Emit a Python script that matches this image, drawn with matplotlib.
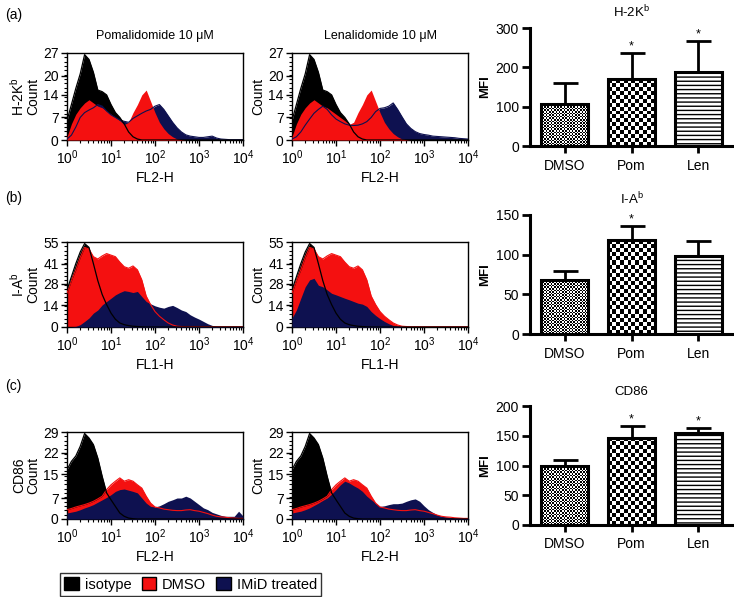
import matplotlib
matplotlib.use('Agg')
import matplotlib.pyplot as plt
import numpy as np
from matplotlib.patches import Patch
from matplotlib.ticker import FixedLocator, LogLocator, NullFormatter

plt.rcParams['font.family'] = ['Liberation Sans', 'DejaVu Sans']
plt.rcParams['mathtext.fontset'] = 'custom'
plt.rcParams['mathtext.rm'] = 'Liberation Sans'
plt.rcParams['mathtext.it'] = 'Liberation Sans'
plt.rcParams['hatch.linewidth'] = 1.0

# log10 of fluorescence, 0.1 decade steps
logx = np.round(np.arange(0, 4.01, 0.1), 2)

# (a) H-2Kb
iso_a = [6, 11, 16, 20.5, 26.5, 25, 21, 15.5, 15, 14, 11, 8.5, 7, 5, 2.5, 1, 0.3, 0, 0, 0, 0,
         0, 0, 0, 0, 0, 0, 0, 0, 0, 0, 0, 0, 0, 0, 0, 0, 0, 0, 0, 0]
dmso_a = [1, 5, 8, 10, 11.5, 12.5, 11.5, 10.5, 10, 9, 8, 7, 6, 4.8, 5.5, 8.5, 11, 14, 15.5, 12, 8.5,
          5.5, 3.5, 2, 1, 0.3, 0.1, 0, 0, 0, 0, 0, 0, 0, 0, 0, 0, 0, 0, 0, 0]
pom_a = [0.3, 1.5, 4, 7, 8.5, 9.3, 10, 11, 10.5, 9, 7.8, 7, 6.2, 5.8, 5.5, 6.7, 7.5, 8.3, 9, 9.5, 10.5,
         11, 9.5, 7.5, 5.5, 3.8, 2.5, 1.6, 1.2, 1, 0.8, 0.8, 1, 1.2, 0.6, 0.3, 0.2, 0.1, 0.1, 0.1, 0.1]
len_a = [0.3, 1, 2.5, 4.6, 6.5, 8.3, 9.5, 10.5, 9.5, 7.8, 6.5, 5.7, 5, 4.6, 4.5, 4.6, 5, 5.7, 7, 8.8, 9.8,
         10, 10.5, 11.5, 9.5, 7.2, 5, 3.6, 2.6, 2, 1.7, 1.5, 1.2, 1.1, 1, 0.9, 0.8, 0.7, 0.5, 0.4, 0.3]

# (b) I-Ab
iso_b = [24, 32.5, 41, 48.5, 54, 51.5, 41, 30, 21, 14.5, 9, 5, 2.6, 1.5, 0.9, 0.5, 0.3, 0.1, 0, 0, 0,
         0, 0, 0, 0, 0, 0, 0, 0, 0, 0, 0, 0, 0, 0, 0, 0, 0, 0, 0, 0]
dmso_b = [22, 30, 37, 45, 51.5, 50.5, 45.5, 44, 46, 47.5, 46.5, 45.5, 42, 39, 38, 39.5, 37, 30.5, 20, 14.5, 10,
          7, 4.7, 2.6, 1.3, 0.5, 0.3, 0.2, 0.2, 0.2, 0.2, 0.2, 0.2, 0.2, 0.2, 0.2, 0.2, 0.2, 0.2, 0.2, 0.2]
pom_b = [0, 0.1, 0.4, 1.5, 3.6, 5.8, 9, 11, 14.3, 16.5, 18.6, 20.8, 22.3, 23.5, 23, 22.3, 23, 19.7, 16.5, 15, 13.7,
         12.8, 12.2, 13.3, 14, 12.6, 11, 10, 7.9, 6.4, 5.1, 3.6, 2.1, 1, 0.4, 0.2, 0.2, 0.2, 0.2, 0.2, 0.2]
len_b = [5.8, 11, 18.6, 26, 30.5, 31.5, 27, 26, 24, 21.8, 20.8, 19.7, 18.6, 17.6, 16.5, 15.4, 14.8, 13.3, 10, 7.5, 5.4,
         3.6, 2.1, 1, 0.4, 0.1, 0, 0, 0, 0, 0, 0, 0, 0, 0, 0, 0, 0, 0, 0, 0]

# (c) CD86
iso_c = [16.4, 19.2, 21, 24.2, 28.5, 27, 24.8, 20.3, 14.2, 8.7, 6.4, 4.2, 2, 0.9, 0.3, 0.1, 0, 0, 0, 0, 0,
         0, 0, 0, 0, 0, 0, 0, 0, 0, 0, 0, 0, 0, 0, 0, 0, 0, 0, 0, 0]
dmso_c = [3.1, 3.5, 4, 4.4, 4.8, 5.3, 5.9, 6.7, 7.6, 9.8, 11.4, 12.6, 13.7, 12.6, 13.1, 12.6, 11.4, 10.3, 7.6, 5.3, 4,
          3.7, 3.3, 3.1, 2.9, 2.8, 2.8, 3, 3.1, 2.8, 2.6, 2.2, 1.8, 1.3, 0.9, 0.7, 0.6, 0.4, 0.3, 0.2, 0.2]
pom_c = [2, 2.3, 2.6, 3.1, 3.7, 4.2, 4.8, 5.6, 6.4, 7.2, 8.1, 9.2, 9.8, 10, 9.6, 9.2, 8.7, 7, 5.3, 4.2, 4,
         4.4, 5.1, 5.9, 6.4, 7, 7, 7.6, 7, 5.9, 4.8, 3.7, 3.1, 2.2, 1.7, 1.2, 0.9, 0.9, 0.9, 2.6, 1]
len_c = [2, 2.3, 2.6, 3.1, 3.7, 4.5, 5.3, 6.2, 7, 8.3, 9.8, 11.4, 12.6, 12, 11.1, 10.3, 9.2, 7.6, 6.4, 5.3, 4.2,
         4.4, 4.8, 5.1, 5.1, 5.3, 5.9, 6.4, 6.7, 5.9, 4.4, 3.1, 2.2, 1.4, 0.9, 0.7, 0.5, 0.4, 0.4, 0.4, 0.4]

# bar charts (MFI)
groups = ['DMSO', 'Pom', 'Len']
mfi_a = [108, 170, 188]
err_a = [52, 67, 79]
mfi_b = [68, 118, 98]
err_b = [11, 18, 19]
mfi_c = [100, 147, 154]
err_c = [10, 19, 9]
stars_a = [False, True, True]
stars_b = [False, True, False]
stars_c = [False, True, True]

RED = '#f41010'
NAVY = '#0e1150'

fig = plt.figure(figsize=(7.34, 5.97), dpi=100)
W, H = 734.0, 597.0


def axes_px(x0, y0, x1, y1):
    return fig.add_axes([x0 / W, 1 - y1 / H, (x1 - x0) / W, (y1 - y0) / H])


def hist_panel(ax, iso, dmso, treat, navy_top, ymax, yticks, xlab, ylab, title=None):
    x = 10 ** logx
    if navy_top:
        ax.fill_between(x, iso, color='black', lw=0, zorder=1)
        ax.fill_between(x, dmso, color=RED, lw=0, zorder=2)
        ax.fill_between(x, treat, color=NAVY, lw=0, zorder=3)
        ax.plot(x, dmso, color=RED, lw=0.8, zorder=4)
    else:
        ax.fill_between(x, iso, color='black', lw=0, zorder=1)
        ax.fill_between(x, treat, color=NAVY, lw=0, zorder=2)
        ax.fill_between(x, dmso, color=RED, lw=0, zorder=3)
        ax.plot(x, treat, color=NAVY, lw=0.8, zorder=4)
    ax.plot(x, iso, color='black', lw=0.9, zorder=5)
    ax.set_xscale('log')
    ax.set_xlim(1, 1e4)
    ax.set_ylim(0, ymax)
    ax.set_yticks(yticks)
    ax.yaxis.set_minor_locator(FixedLocator(np.linspace(0, ymax, 21)))
    ax.xaxis.set_major_locator(LogLocator(base=10, numticks=10))
    ax.xaxis.set_minor_locator(LogLocator(base=10, subs=np.arange(2, 10), numticks=10))
    ax.xaxis.set_minor_formatter(NullFormatter())
    ax.tick_params(which='major', direction='out', length=4, width=1, labelsize=10, pad=2)
    ax.tick_params(which='minor', direction='out', length=2, width=0.8)
    for s in ax.spines.values():
        s.set_linewidth(1.0)
    ax.set_xlabel(xlab, fontsize=10, labelpad=3)
    ax.set_ylabel(ylab, fontsize=10, labelpad=2, linespacing=1.0)
    if title:
        ax.set_title(title, fontsize=9, pad=10)


def checker(ax, bar, cell_px, xlim, ylim):
    x0, w, h = bar.get_x(), bar.get_width(), bar.get_height()
    p0 = ax.transData.transform((x0, 0))
    p1 = ax.transData.transform((x0 + w, h))
    nx = max(1, int(round((p1[0] - p0[0]) / cell_px)))
    ny = max(1, int(round((p1[1] - p0[1]) / cell_px)))
    arr = np.add.outer(np.arange(ny), np.arange(nx)) % 2
    ax.imshow(arr, cmap='gray', extent=(x0, x0 + w, 0, h), interpolation='nearest',
              aspect='auto', zorder=2, clip_path=bar)
    ax.set_xlim(*xlim)
    ax.set_ylim(*ylim)


def bar_panel(ax, vals, errs, stars, ymax, yticks, title):
    pos = np.arange(len(groups))
    xlim = (-0.52, 2.52)
    ylim = (0, ymax)
    ax.set_xlim(*xlim)
    ax.set_ylim(*ylim)
    ax.errorbar(pos, vals, yerr=[np.zeros(len(vals)), errs], fmt='none', ecolor='black',
                elinewidth=2, capsize=9, capthick=2, zorder=1)
    bars = ax.bar(pos, vals, width=0.7, facecolor='none', edgecolor='black', lw=2.2, zorder=3)
    ax.bar(pos[0], vals[0], width=0.7, facecolor='white', edgecolor='none', zorder=1.5)
    ax.bar(pos[1], vals[1], width=0.7, facecolor='white', edgecolor='none', zorder=1.5)
    ax.bar(pos[2], vals[2], width=0.7, facecolor='white', edgecolor='black', lw=0,
           hatch='----', zorder=1.5)
    checker(ax, bars[0], 1.6, xlim, ylim)
    checker(ax, bars[1], 4.0, xlim, ylim)
    for p, v, e, s in zip(pos, vals, errs, stars):
        if s:
            ax.text(p, v + e + ymax * 0.005, '*', ha='center', va='bottom', fontsize=9)
    ax.set_xticks(pos)
    ax.set_xticklabels(groups)
    ax.set_yticks(yticks)
    ax.spines['top'].set_visible(False)
    ax.spines['right'].set_visible(False)
    ax.spines['left'].set_linewidth(2.2)
    ax.spines['bottom'].set_linewidth(2.2)
    ax.tick_params(axis='y', length=6, width=2, labelsize=10, pad=2)
    ax.tick_params(axis='x', length=5, width=2, labelsize=10, pad=4)
    ax.set_ylabel('MFI', fontsize=9.5, fontweight='bold', labelpad=3)
    ax.set_title(title, fontsize=9.5, pad=8)


# row (a)
ax = axes_px(67, 53, 243, 140)
hist_panel(ax, iso_a, dmso_a, pom_a, False, 27, [0, 7, 14, 20, 27], 'FL2-H',
           'H-2K$^\\mathregular{b}$\nCount', 'Pomalidomide 10 \u03bcM')
ax = axes_px(292, 53, 468, 140)
hist_panel(ax, iso_a, dmso_a, len_a, False, 27, [0, 7, 14, 20, 27], 'FL2-H',
           'Count', 'Lenalidomide 10 \u03bcM')
ax = axes_px(530, 28, 733, 146)
bar_panel(ax, mfi_a, err_a, stars_a, 300, [0, 100, 200, 300], 'H-2K$^\\mathregular{b}$')

# row (b)
ax = axes_px(67, 242, 243, 327)
hist_panel(ax, iso_b, dmso_b, pom_b, True, 55, [0, 14, 28, 41, 55], 'FL1-H',
           'I-A$^\\mathregular{b}$\nCount')
ax = axes_px(292, 242, 468, 327)
hist_panel(ax, iso_b, dmso_b, len_b, True, 55, [0, 14, 28, 41, 55], 'FL1-H', 'Count')
ax = axes_px(530, 215, 733, 334)
bar_panel(ax, mfi_b, err_b, stars_b, 150, [0, 50, 100, 150], 'I-A$^\\mathregular{b}$')

# row (c)
ax = axes_px(67, 432, 243, 519)
hist_panel(ax, iso_c, dmso_c, pom_c, True, 29, [0, 7, 15, 22, 29], 'FL2-H', 'CD86\nCount')
ax = axes_px(292, 432, 468, 519)
hist_panel(ax, iso_c, dmso_c, len_c, True, 29, [0, 7, 15, 22, 29], 'FL2-H', 'Count')
ax = axes_px(530, 406, 733, 525)
bar_panel(ax, mfi_c, err_c, stars_c, 200, [0, 50, 100, 150, 200], 'CD86')

fig.text(5 / W, 1 - 15 / H, '(a)', fontsize=10, va='center')
fig.text(5 / W, 1 - 198 / H, '(b)', fontsize=10, va='center')
fig.text(5 / W, 1 - 386 / H, '(c)', fontsize=10, va='center')

handles = [Patch(facecolor='black', edgecolor='black'),
           Patch(facecolor=RED, edgecolor='black'),
           Patch(facecolor=NAVY, edgecolor='black')]
leg = fig.legend(handles, ['isotype', 'DMSO', 'IMiD treated'], ncol=3, loc='lower left',
                 bbox_to_anchor=(60 / W, 1 / H), fontsize=10.5, frameon=True, fancybox=False,
                 edgecolor='black', handlelength=1.0, handleheight=1.0, handletextpad=0.4,
                 columnspacing=0.7, borderpad=0.3, borderaxespad=0)
leg.get_frame().set_linewidth(1.0)

fig.savefig('out.png', dpi=100)
